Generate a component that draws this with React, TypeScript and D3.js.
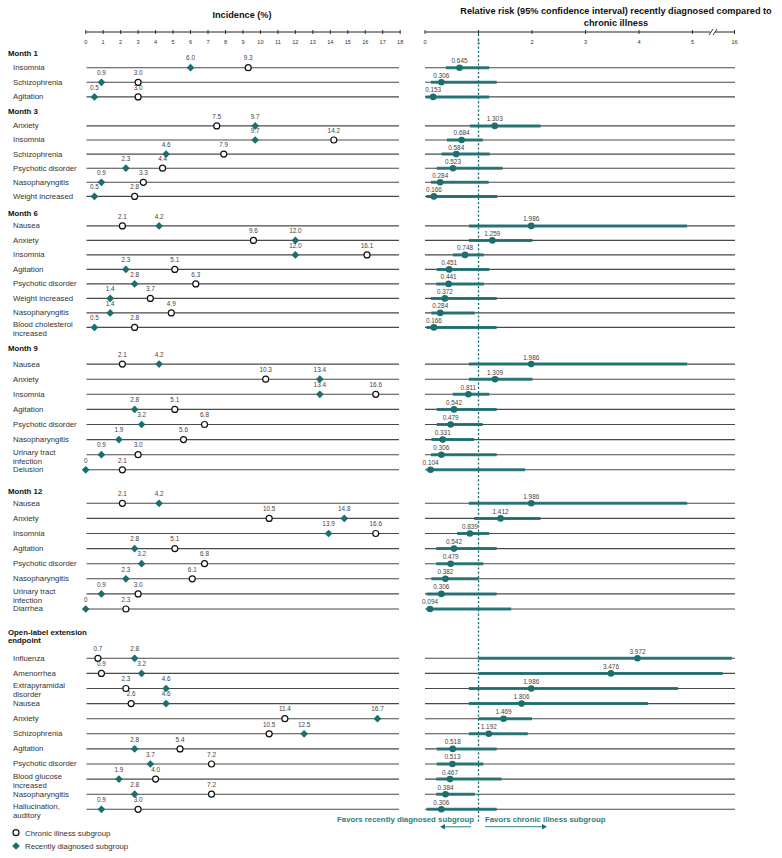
import React from 'react';
import * as d3 from 'd3';

// ---------- DATA ----------
const sections = ["Month 1", "Month 3", "Month 6", "Month 9", "Month 12", "Open-label extension\nendpoint"];

const rowSection = [
  0, 0, 0,
  1, 1, 1, 1, 1, 1,
  2, 2, 2, 2, 2, 2, 2, 2,
  3, 3, 3, 3, 3, 3, 3, 3,
  4, 4, 4, 4, 4, 4, 4, 4,
  5, 5, 5, 5, 5, 5, 5, 5, 5, 5, 5,
];

const rowLabels = [
  "Insomnia", "Schizophrenia", "Agitation",
  "Anxiety", "Insomnia", "Schizophrenia", "Psychotic disorder", "Nasopharyngitis", "Weight increased",
  "Nausea", "Anxiety", "Insomnia", "Agitation", "Psychotic disorder", "Weight increased", "Nasopharyngitis", "Blood cholesterol\nincreased",
  "Nausea", "Anxiety", "Insomnia", "Agitation", "Psychotic disorder", "Nasopharyngitis", "Urinary tract\ninfection", "Delusion",
  "Nausea", "Anxiety", "Insomnia", "Agitation", "Psychotic disorder", "Nasopharyngitis", "Urinary tract\ninfection", "Diarrhea",
  "Influenza", "Amenorrhea", "Extrapyramidal\ndisorder", "Nausea", "Anxiety", "Schizophrenia", "Agitation", "Psychotic disorder", "Blood glucose\nincreased", "Nasopharyngitis", "Hallucination,\nauditory",
];

const chronicIncidence = [
  9.3, 3.0, 3.0,
  7.5, 14.2, 7.9, 4.4, 3.3, 2.8,
  2.1, 9.6, 16.1, 5.1, 6.3, 3.7, 4.9, 2.8,
  2.1, 10.3, 16.6, 5.1, 6.8, 5.6, 3.0, 2.1,
  2.1, 10.5, 16.6, 5.1, 6.8, 6.1, 3.0, 2.3,
  0.7, 0.9, 2.3, 2.6, 11.4, 10.5, 5.4, 7.2, 4.0, 7.2, 3.0,
];

const recentIncidence = [
  6.0, 0.9, 0.5,
  9.7, 9.7, 4.6, 2.3, 0.9, 0.5,
  4.2, 12.0, 12.0, 2.3, 2.8, 1.4, 1.4, 0.5,
  4.2, 13.4, 13.4, 2.8, 3.2, 1.9, 0.9, 0,
  4.2, 14.8, 13.9, 2.8, 3.2, 2.3, 0.9, 0,
  2.8, 3.2, 4.6, 4.6, 16.7, 12.5, 2.8, 3.7, 1.9, 2.8, 0.9,
];

const relativeRisk = [
  0.645, 0.306, 0.153,
  1.303, 0.684, 0.584, 0.523, 0.284, 0.166,
  1.986, 1.259, 0.748, 0.451, 0.441, 0.372, 0.284, 0.166,
  1.986, 1.309, 0.811, 0.542, 0.479, 0.331, 0.306, 0.104,
  1.986, 1.412, 0.839, 0.542, 0.479, 0.382, 0.306, 0.094,
  3.972, 3.476, 1.986, 1.806, 1.469, 1.192, 0.518, 0.513, 0.467, 0.384, 0.306,
];

const ciLower = [
  0.39, 0.11, 0.01,
  0.84, 0.41, 0.31, 0.22, 0.11, 0.03,
  0.82, 0.82, 0.52, 0.22, 0.21, 0.11, 0.12, 0.03,
  0.82, 0.82, 0.52, 0.22, 0.22, 0.12, 0.11, 0.03,
  0.82, 0.92, 0.60, 0.21, 0.21, 0.12, 0.03, 0.03,
  1.0, 1.0, 0.82, 0.82, 1.0, 0.82, 0.22, 0.22, 0.21, 0.21, 0.03,
];

const ciUpper = [
  1.20, 1.34, 1.20,
  2.16, 1.08, 1.21, 1.45, 1.19, 1.35,
  4.90, 2.01, 1.10, 1.20, 1.10, 1.34, 0.93, 1.34,
  4.90, 2.01, 1.20, 1.34, 1.08, 0.92, 1.34, 1.87,
  4.90, 2.16, 1.20, 1.34, 1.09, 1.00, 1.34, 1.61,
  15.3, 12.9, 4.73, 4.17, 2.0, 1.92, 1.34, 1.09, 1.43, 0.93, 1.34,
];

const incidenceTicks = d3.range(0, 19);
const rrTicks = [0, 1, 2, 3, 4, 5, 16];

// ---------- LAYOUT / STYLE ----------
const W = 782;
const H = 858;
const FONT = "'Liberation Sans', Arial, Helvetica, sans-serif";
const TEAL = '#1d6e6f';
const TEAL_LIGHT = '#5b9d9e';
const TEXT = '#333';

const sectionHeaderOffset = [15, 15, 13, 16.3, 12.5, 26];
const sectionRowStep = [14.6, 14.1, 14.5, 15.1, 15.1, 15.1];
const sectionGapAfter = [14, 16.5, 20.4, 21, 23.3, 0];
const firstHeaderY = 52.7;
const axisY = 32;

function computeLayout() {
  const headerY: number[] = [];
  const rowY: number[] = [];
  let y = firstHeaderY;
  sections.forEach((_, s) => {
    headerY.push(y);
    const idx = rowSection.map((v, i) => (v === s ? i : -1)).filter((i) => i >= 0);
    idx.forEach((i, k) => {
      y += k === 0 ? sectionHeaderOffset[s] : sectionRowStep[s];
      rowY[i] = y;
    });
    y += sectionGapAfter[s];
  });
  return { headerY, rowY };
}

export default function App() {
  const { headerY, rowY } = computeLayout();
  const xInc = d3.scaleLinear().domain([0, 18]).range([85.7, 400.2]);
  const xRR = d3.scaleLinear().domain([0, 5, 16]).range([425, 692.5, 734.5]);
  const diamond = d3.symbol(d3.symbolSquare, 30)() as string;
  const fmtInc = (v: number) => (v === 0 ? '0' : v.toFixed(1));
  const fmtRR = (v: number) => v.toFixed(3);

  const leftEnd = 399;
  const rightEnd = 735;
  const breakX = 713;

  return (
    <div style={{ position: 'absolute', left: 0, top: 0 }}>
      <svg width={W} height={H} style={{ display: 'block', background: '#fff' }} fontFamily={FONT}>
        {/* Titles */}
        <text x={242} y={18.3} textAnchor="middle" fontSize={9.2} fontWeight="bold" fill="#111">
          Incidence (%)
        </text>
        <text x={616} y={14} textAnchor="middle" fontSize={9.2} fontWeight="bold" fill="#111">
          Relative risk (95% confidence interval) recently diagnosed compared to
        </text>
        <text x={616} y={26} textAnchor="middle" fontSize={9.2} fontWeight="bold" fill="#111">
          chronic illness
        </text>

        {/* Left axis */}
        <line x1={xInc(0)} x2={xInc(18)} y1={axisY} y2={axisY} stroke="#222" strokeWidth={1} />
        {incidenceTicks.map((t) => (
          <g key={'lt' + t}>
            <line x1={xInc(t)} x2={xInc(t)} y1={axisY - 2} y2={axisY + 2} stroke="#222" strokeWidth={0.9} />
            <text x={xInc(t)} y={43.8} textAnchor="middle" fontSize={5.6} fill={TEXT}>
              {t}
            </text>
          </g>
        ))}

        {/* Right axis */}
        <line x1={xRR(0)} x2={rightEnd} y1={axisY} y2={axisY} stroke="#222" strokeWidth={1} />
        {rrTicks.map((t) => (
          <g key={'rt' + t}>
            <line x1={xRR(t)} x2={xRR(t)} y1={axisY - 2} y2={axisY + 2} stroke="#222" strokeWidth={0.9} />
            <text x={xRR(t)} y={43.8} textAnchor="middle" fontSize={5.6} fill={TEXT}>
              {t}
            </text>
          </g>
        ))}
        <rect x={breakX - 3} y={axisY - 1} width={5} height={2} fill="#fff" />
        {[-2, 2].map((d) => (
          <line
            key={'br' + d}
            x1={breakX + d - 2}
            y1={axisY + 3}
            x2={breakX + d + 2}
            y2={axisY - 3}
            stroke="#222"
            strokeWidth={0.9}
          />
        ))}

        {/* Section headers */}
        {sections.map((s, i) =>
          s.split('\n').map((line, k) => (
            <text
              key={'h' + i + k}
              x={8}
              y={headerY[i] + 2.9 + k * 8}
              fontSize={7.8}
              fontWeight="bold"
              fill="#111"
            >
              {line}
            </text>
          ))
        )}

        {/* Row lines */}
        {rowLabels.map((_, i) => (
          <g key={'rl' + i}>
            <line x1={86.5} x2={leftEnd} y1={rowY[i]} y2={rowY[i]} stroke="#4a4a4a" strokeWidth={1.1} />
            <line x1={xRR(0)} x2={rightEnd} y1={rowY[i]} y2={rowY[i]} stroke="#4a4a4a" strokeWidth={1.1} />
          </g>
        ))}

        {/* Row labels */}
        {rowLabels.map((lab, i) => {
          const lines = lab.split('\n');
          const y0 = lines.length > 1 ? rowY[i] - 3 : rowY[i] - 0.5;
          return lines.map((line, k) => (
            <text key={'lab' + i + k} x={13} y={y0 + 2.9 + k * 9} fontSize={7.8} fill={TEXT}>
              {line}
            </text>
          ));
        })}

        {/* Dashed reference line at RR = 1 */}
        <line
          x1={xRR(1)}
          x2={xRR(1)}
          y1={axisY + 2}
          y2={822}
          stroke={TEAL}
          strokeWidth={1.3}
          strokeDasharray="2.2,2"
        />

        {/* Left panel markers */}
        {rowLabels.map((_, i) => (
          <g key={'m' + i}>
            <circle
              cx={xInc(chronicIncidence[i])}
              cy={rowY[i]}
              r={3}
              fill="#fff"
              stroke="#111"
              strokeWidth={1.2}
            />
            <text
              x={xInc(chronicIncidence[i])}
              y={rowY[i] - 7.3}
              textAnchor="middle"
              fontSize={6.4}
              fill="#444"
            >
              {fmtInc(chronicIncidence[i])}
            </text>
            <path
              d={diamond}
              transform={`translate(${xInc(recentIncidence[i])},${rowY[i]}) rotate(45)`}
              fill={TEAL}
            />
            <text
              x={xInc(recentIncidence[i])}
              y={rowY[i] - 7.3}
              textAnchor="middle"
              fontSize={6.4}
              fill="#444"
            >
              {fmtInc(recentIncidence[i])}
            </text>
          </g>
        ))}

        {/* Right panel CI + point */}
        {rowLabels.map((_, i) => (
          <g key={'rr' + i}>
            <line
              x1={xRR(ciLower[i])}
              x2={xRR(ciUpper[i])}
              y1={rowY[i]}
              y2={rowY[i]}
              stroke={TEAL}
              strokeOpacity={0.9}
              strokeWidth={3}
            />
            <circle cx={xRR(relativeRisk[i])} cy={rowY[i]} r={3.3} fill={TEAL} />
            <text
              x={xRR(relativeRisk[i])}
              y={rowY[i] - 4.6}
              textAnchor="middle"
              fontSize={6.4}
              fill="#444"
            >
              {fmtRR(relativeRisk[i])}
            </text>
          </g>
        ))}

        {/* Favors annotations */}
        <text x={474} y={822.2} textAnchor="end" fontSize={7.8} fontWeight="bold" fill="#2b7d7e">
          Favors recently diagnosed subgroup
        </text>
        <text x={485} y={822.2} textAnchor="start" fontSize={7.8} fontWeight="bold" fill="#2b7d7e">
          Favors chronic illness subgroup
        </text>
        <line x1={471} x2={443} y1={826.7} y2={826.7} stroke={TEAL_LIGHT} strokeWidth={1.3} />
        <path d="M440,826.7 L445,823.9 L445,829.5 Z" fill={TEAL} />
        <line x1={485} x2={544} y1={826.7} y2={826.7} stroke={TEAL_LIGHT} strokeWidth={1.3} />
        <path d="M547,826.7 L542,823.9 L542,829.5 Z" fill={TEAL} />

        {/* Legend */}
        <circle cx={16} cy={832.7} r={3} fill="#fff" stroke="#111" strokeWidth={1.2} />
        <text x={25} y={835.5} fontSize={7.8} fill={TEXT}>
          Chronic illness subgroup
        </text>
        <path d={diamond} transform={`translate(16,846) rotate(45)`} fill={TEAL} />
        <text x={25} y={848.8} fontSize={7.8} fill={TEXT}>
          Recently diagnosed subgroup
        </text>
      </svg>
    </div>
  );
}
